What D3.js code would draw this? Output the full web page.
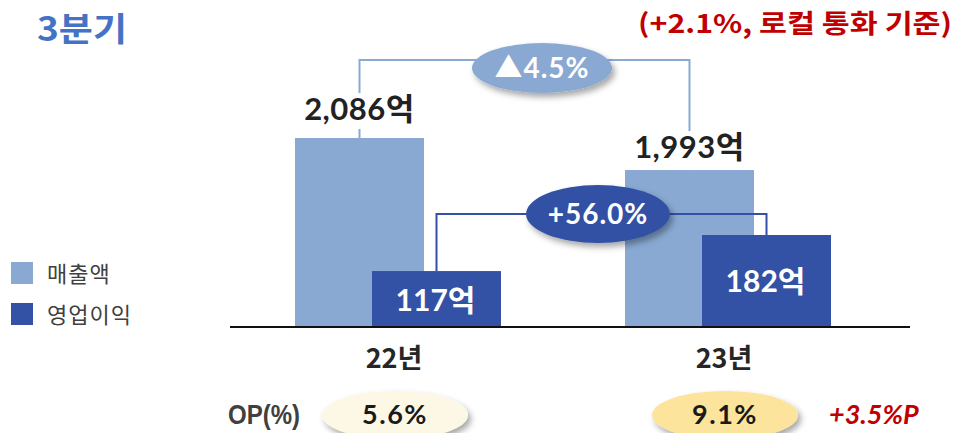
<!DOCTYPE html>
<html>
<head>
<meta charset="utf-8">
<script src="https://cdn.jsdelivr.net/npm/d3@7"></script>
<style>
  body { margin: 0; background: #fff; }
  svg text { font-family: Lato, "Noto Sans CJK KR", sans-serif; }
</style>
</head>
<body>
<div id="chart"></div>
<script>
// data
var years = ["22년", "23년"];
var sales = [2086, 1993];          // 매출액 (억)
var profit = [117, 182];           // 영업이익 (억)
var opRate = [5.6, 9.1];           // OP(%)
var seriesNames = ["매출액", "영업이익"];
var salesChange = "▲4.5%";
var profitChange = "+56.0%";
var opChange = "+3.5%P";
var title = "3분기";
var note = "(+2.1%, 로컬 통화 기준)";

var width = 959, height = 433;
var baseY = 326;
var barW = 129, offset = 38.5;

var lightBlue = "#89a9d3", darkBlue = "#3351a5";

var svg = d3.select("#chart")
    .append("svg")
    .attr("width", width)
    .attr("height", height);

// shadow filter for ellipses
var defs = svg.append("defs");
var f = defs.append("filter").attr("id", "shadow")
    .attr("x", "-20%").attr("y", "-30%").attr("width", "150%").attr("height", "180%");
f.append("feDropShadow").attr("dx", 3).attr("dy", 4).attr("stdDeviation", 3)
    .attr("flood-color", "#000").attr("flood-opacity", 0.35);

// scales
var xScale = d3.scalePoint().domain(years).range([398, 728]);
var ySales = d3.scaleLinear().domain([1540, 2086]).range([baseY, 138]);
var yProfit = d3.scaleLinear().domain([18, 182]).range([baseY, 235]);

// title
svg.append("text")
    .attr("x", 37).attr("y", 41)
    .attr("textLength", 90)
    .attr("lengthAdjust", "spacingAndGlyphs")
    .style("font-family", "'Noto Sans CJK KR'")
    .style("font-size", "33px").style("font-weight", "bold")
    .style("fill", "#4472c4")
    .text(title);

svg.append("text")
    .attr("x", 638).attr("y", 33)
    .attr("textLength", 314)
    .attr("lengthAdjust", "spacingAndGlyphs")
    .style("font-family", "'Noto Sans CJK KR'")
    .style("font-size", "26px").style("font-weight", "bold")
    .style("fill", "#c00000")
    .text(note);

// legend
var legend = svg.selectAll(".legend")
    .data(seriesNames)
    .enter()
    .append("g")
    .attr("class", "legend")
    .attr("transform", function (d, i) { return "translate(11," + (262 + i * 41) + ")"; });

legend.append("rect")
    .attr("width", 22).attr("height", 22)
    .attr("fill", function (d, i) { return i == 0 ? lightBlue : darkBlue; });

legend.append("text")
    .attr("x", 36).attr("y", 20)
    .style("font-family", "'Noto Sans CJK KR'")
    .style("font-size", "22px")
    .style("letter-spacing", "1px")
    .style("fill", "#404040")
    .text(function (d) { return d; });

// brackets (drawn before bars/labels)
function bracket(x1, y1, x2, y2, yTop, color) {
    svg.append("path")
        .attr("d", "M" + x1 + "," + y1 + "V" + yTop + "H" + x2 + "V" + y2)
        .attr("fill", "none")
        .attr("stroke", color)
        .attr("stroke-width", 2);
}
var salesTopY = ySales(d3.max(sales)) - 78;
bracket(xScale(years[0]) - offset, ySales(sales[0]), xScale(years[1]) - offset, ySales(sales[1]), salesTopY, lightBlue);

var profitTopY = yProfit(d3.max(profit)) - 21;

// sales bars
svg.selectAll(".salesbar")
    .data(sales)
    .enter()
    .append("rect")
    .attr("class", "salesbar")
    .attr("x", function (d, i) { return xScale(years[i]) - offset - barW / 2; })
    .attr("y", function (d) { return ySales(d); })
    .attr("width", barW)
    .attr("height", function (d) { return baseY - ySales(d); })
    .attr("fill", lightBlue);

bracket(xScale(years[0]) + offset, yProfit(profit[0]), xScale(years[1]) + offset, yProfit(profit[1]), profitTopY, darkBlue);

// profit bars
svg.selectAll(".profitbar")
    .data(profit)
    .enter()
    .append("rect")
    .attr("class", "profitbar")
    .attr("x", function (d, i) { return xScale(years[i]) + offset - barW / 2; })
    .attr("y", function (d) { return yProfit(d); })
    .attr("width", barW)
    .attr("height", function (d) { return baseY - yProfit(d); })
    .attr("fill", darkBlue);

// sales labels with white box
var fmt = d3.format(",");
sales.forEach(function (d, i) {
    var cx = xScale(years[i]) - offset;
    var by = ySales(d) - 18 + (i == 1 ? 6 : 0);
    svg.append("rect")
        .attr("x", cx - 6).attr("y", by - 27)
        .attr("width", 12).attr("height", 36 + (i == 1 ? 3 : 0))
        .attr("fill", "#fff");
    svg.append("text")
        .attr("x", cx).attr("y", by)
        .attr("text-anchor", "middle")
        .style("font-size", "31px").style("font-weight", "bold")
        .style("letter-spacing", "0.5px")
        .style("fill", "#222")
        .text(fmt(d) + "억");
});

// profit labels inside bars
profit.forEach(function (d, i) {
    svg.append("text")
        .attr("x", xScale(years[i]) + offset - 1)
        .attr("y", yProfit(d) + (i == 0 ? 40 : 57))
        .attr("text-anchor", "middle")
        .style("font-size", "30px").style("font-weight", "bold")
        .style("fill", "#fff")
        .text(d + "억");
});

// x axis line
svg.append("line")
    .attr("x1", 230).attr("x2", 910)
    .attr("y1", baseY + 1).attr("y2", baseY + 1)
    .attr("stroke", "#111").attr("stroke-width", 2);

// year labels
svg.selectAll(".year")
    .data(years)
    .enter()
    .append("text")
    .attr("class", "year")
    .attr("x", function (d) { return xScale(d) - 4; })
    .attr("y", 368)
    .attr("text-anchor", "middle")
    .style("font-family", "'Noto Sans CJK KR'")
    .style("font-size", "27px").style("font-weight", "bold")
    .style("fill", "#262626")
    .text(function (d) { return d; });

// change ellipses
function bubble(cx, cy, rx, ry, fill, label, color, size) {
    svg.append("ellipse")
        .attr("cx", cx).attr("cy", cy).attr("rx", rx).attr("ry", ry)
        .attr("fill", fill)
        .attr("filter", "url(#shadow)");
    svg.append("text")
        .attr("x", cx).attr("y", cy + size * 0.36)
        .attr("text-anchor", "middle")
        .style("font-size", size + "px").style("font-weight", "bold")
        .style("letter-spacing", "1px")
        .style("fill", color)
        .text(label);
}
var midX = (xScale(years[0]) + xScale(years[1])) / 2;
bubble(midX - 21, salesTopY + 8, 70, 25, lightBlue, salesChange, "#fff", 28);
bubble(midX + 35, profitTopY, 72, 29, darkBlue, profitChange, "#fff", 28);

// OP row
svg.append("text")
    .attr("x", 228).attr("y", 424)
    .attr("textLength", 72)
    .attr("lengthAdjust", "spacingAndGlyphs")
    .style("font-family", "'Liberation Sans Narrow', 'Liberation Sans'")
    .style("font-size", "27px").style("font-weight", "bold")
    .style("fill", "#404040")
    .text("OP(%)");

var opFill = ["#fdf8e6", "#fde49c"];
opRate.forEach(function (d, i) {
    var cx = xScale(years[i]) - 3;
    svg.append("ellipse")
        .attr("cx", cx).attr("cy", 415).attr("rx", 73).attr("ry", 24)
        .attr("fill", opFill[i])
        .attr("filter", "url(#shadow)");
    svg.append("text")
        .attr("x", cx).attr("y", 424)
        .attr("text-anchor", "middle")
        .style("font-size", "27px").style("font-weight", "bold")
        .style("letter-spacing", "1.5px")
        .style("fill", "#1a1a1a")
        .text(d.toFixed(1) + "%");
});

svg.append("text")
    .attr("x", 829).attr("y", 424)
    .style("font-size", "27px").style("font-weight", "bold")
    .style("font-style", "italic")
    .style("fill", "#c00000")
    .text(opChange);
</script>
</body>
</html>
